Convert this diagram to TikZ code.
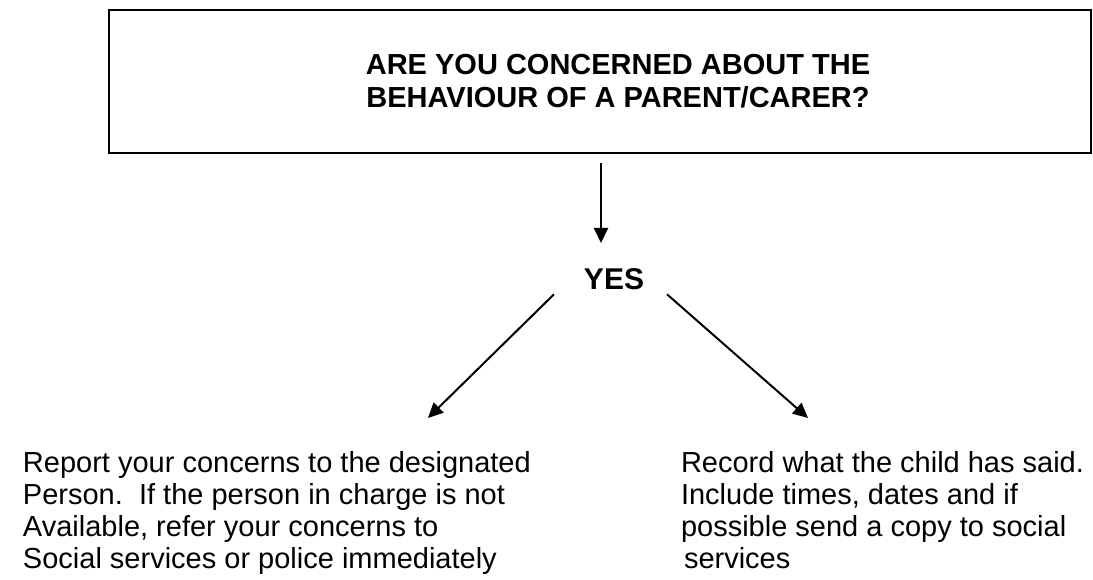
\documentclass[tikz,border=0pt]{standalone}
\usepackage{fontspec}
\setmainfont{Liberation Sans}
\usetikzlibrary{arrows.meta}

\begin{document}
\begin{tikzpicture}[x=1pt,y=-1pt,->,>={Triangle[length=15pt,width=14pt]},line width=2pt,
    question/.style={draw,minimum width=982pt,minimum height=143pt,inner sep=0pt},
    title/.style={font=\fontsize{29}{33}\selectfont\bfseries,align=center,inner sep=0pt},
    answer/.style={font=\fontsize{30}{36}\selectfont\bfseries,inner sep=0pt},
    body/.style={font=\fontsize{29}{32}\selectfont,align=left,inner sep=0pt,anchor=north west}]

\useasboundingbox (0,0) rectangle (1093,580);

\node[question] (box) at (599.5,81.5) {};
\node[title] (q) at (618,81.5) {ARE YOU CONCERNED ABOUT THE\\BEHAVIOUR OF A PARENT/CARER?};
\node[answer, anchor=base] (yes) at (614,290) {YES};

\node[body] (report) at (22,450) {Report your concerns to the designated\\
Person.\ \ If the person in charge is not\\
Available, refer your concerns to\\
Social services or police immediately};
\node[body] (record) at (680,450) {Record what the child has said.\\
Include times, dates and if\\
possible send a copy to social\\
\hspace{3pt}services};

\coordinate (down) at (601,243);
\coordinate (ltip) at (428,418);
\coordinate (rtip) at (808,418);

\draw[shorten <=9pt] (box.south -| down) -- (down);
\draw ([shift={(-29,3)}]yes.south west) -- (ltip);
\draw ([shift={(22,3)}]yes.south east) -- (rtip);

\end{tikzpicture}
\end{document}
